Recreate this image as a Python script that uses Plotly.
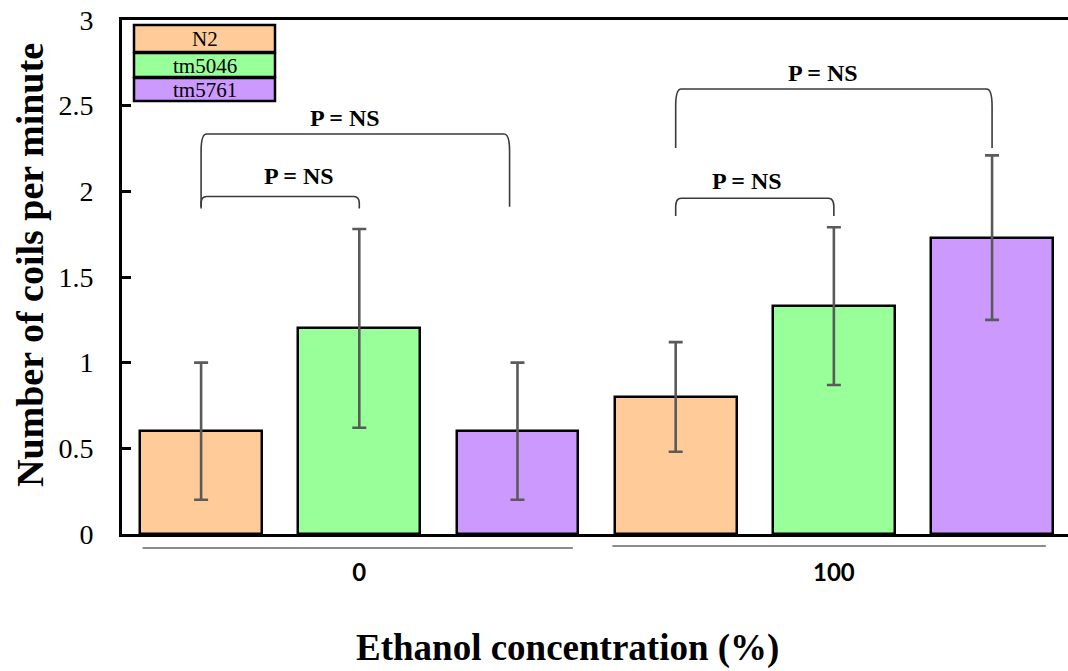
import plotly.graph_objects as go

# ---- data -------------------------------------------------------------
concentrations = ["0", "100"]            # ethanol concentration (%)
strains = ["N2", "tm5046", "tm5761"]
mean_n2 = [0.6, 0.8]
mean_tm5046 = [1.2, 1.33]
mean_tm5761 = [0.6, 1.73]
err_n2 = [0.4, 0.32]
err_tm5046 = [0.58, 0.46]
err_tm5761 = [0.4, 0.48]
y_ticks = [0, 0.5, 1, 1.5, 2, 2.5, 3]
sig_label = "P = NS"
x_title = "Ethanol concentration (%)"
y_title = "Number of coils per minute"

means = [mean_n2, mean_tm5046, mean_tm5761]
errors = [err_n2, err_tm5046, err_tm5761]
colors = ["#FFCC99", "#99FF99", "#CC99FF"]

# ---- layout geometry ---------------------------------------------------
W, H = 1068, 671
ML, MR, MT, MB = 122, 0, 20, 137
PW, PH = W - ML - MR, H - MT - MB


def px_x(px):
    return (px - ML) / PW


def px_y(py):
    return (H - MB - py) / PH


SERIF = "Liberation Serif, Times New Roman, serif"

fig = go.Figure()

n_strains = len(strains)
for s, name in enumerate(strains):
    xs = [g * n_strains + s for g in range(len(concentrations))]
    fig.add_trace(go.Bar(
        x=xs, y=means[s], name=name, width=0.77,
        marker=dict(color=colors[s], line=dict(color="black", width=2.5)),
        error_y=dict(type="data", array=errors[s], visible=True,
                     color="#5a5a5a", thickness=2.6, width=7),
        showlegend=False,
    ))

shapes = []
annotations = []

# significance brackets: (x_left, x_right, y_top, y_left_leg, y_right_leg, corner)
brackets = [
    (0.0, 1.0, 1.97, 1.90, 1.90, 0.04),
    (0.0, 1.95, 2.335, 1.91, 1.91, 0.10),
    (3.0, 4.0, 1.96, 1.856, 1.856, 0.05),
    (3.0, 5.0, 2.597, 2.253, 2.253, 0.10),
]
label_y = [2.09, 2.43, 2.06, 2.69]
label_x = [0.62, 0.91, 3.45, 3.93]
for (x0, x1, yt, yl, yr, c), lx, ly in zip(brackets, label_x, label_y):
    dx = 0.035
    path = (f"M {x0},{yl} L {x0},{yt - c} Q {x0},{yt} {x0 + dx},{yt} "
            f"L {x1 - dx},{yt} Q {x1},{yt} {x1},{yt - c} L {x1},{yr}")
    shapes.append(dict(type="path", xref="x", yref="y", path=path,
                       line=dict(color="#3a3a3a", width=1.6)))
    annotations.append(dict(x=lx, y=ly, xref="x", yref="y", text=sig_label,
                            showarrow=False, xanchor="center", yanchor="middle",
                            font=dict(family=SERIF, size=24, color="black",
                                      weight="bold")))

# grey group separators beneath the axis
for x0, x1, py in [(-0.37, 2.35, 548), (2.6, 5.34, 546)]:
    shapes.append(dict(type="line", xref="x", yref="paper", x0=x0, x1=x1,
                       y0=px_y(py), y1=px_y(py),
                       line=dict(color="#8c8c8c", width=2)))

# stacked legend boxes
rows = [(25, 52), (53, 77), (78, 101)]
for (top, bot), name, col in zip(rows, strains, colors):
    shapes.append(dict(type="rect", xref="paper", yref="paper",
                       x0=px_x(134), x1=px_x(275), y0=px_y(bot), y1=px_y(top),
                       fillcolor=col, line=dict(color="black", width=2.5)))
    annotations.append(dict(x=px_x(204.5), y=px_y((top + bot) / 2 + 1),
                            xref="paper", yref="paper", text=name,
                            showarrow=False, xanchor="center", yanchor="middle",
                            font=dict(family=SERIF, size=21, color="black")))

# axis titles
annotations.append(dict(x=px_x(567), y=px_y(648), xref="paper", yref="paper",
                        text=x_title, showarrow=False,
                        xanchor="center", yanchor="middle",
                        font=dict(family=SERIF, size=37, color="black",
                                  weight="bold")))
annotations.append(dict(x=px_x(30), y=px_y(265), xref="paper", yref="paper",
                        text=y_title, showarrow=False, textangle=-90,
                        xanchor="center", yanchor="middle",
                        font=dict(family=SERIF, size=38, color="black",
                                  weight="bold")))

fig.update_layout(
    width=W, height=H,
    margin=dict(l=ML, r=MR, t=MT, b=MB, pad=0),
    plot_bgcolor="white", paper_bgcolor="white",
    bargap=0,
    shapes=shapes, annotations=annotations,
    xaxis=dict(
        range=[-0.5, 5.48], showgrid=False, zeroline=False,
        showline=True, linecolor="black", linewidth=3, mirror=True,
        tickvals=[1, 4], ticktext=concentrations, ticks="",
        ticklabelstandoff=15,
        tickfont=dict(family="Lato, sans-serif", size=24, color="black",
                      weight="bold"),
    ),
    yaxis=dict(
        range=[0, 3], showgrid=False, zeroline=False,
        showline=True, linecolor="black", linewidth=3,
        tickvals=y_ticks, ticks="inside", ticklen=9, tickwidth=2.5,
        tickcolor="black", ticklabelstandoff=20,
        tickfont=dict(family=SERIF, size=28, color="black"),
    ),
)

fig.write_html("out.html")
